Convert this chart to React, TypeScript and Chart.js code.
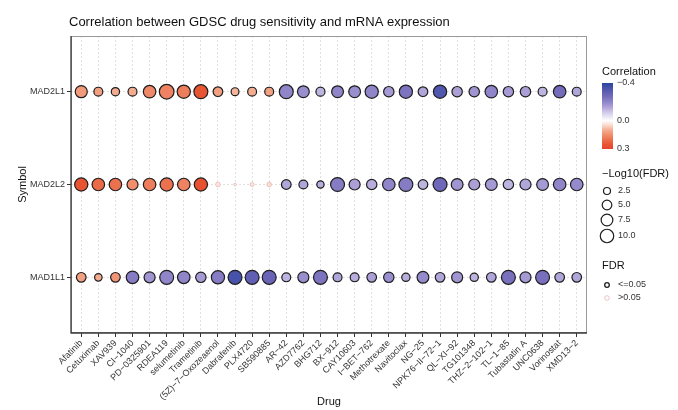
import React, { useEffect, useRef } from "react";
import { Chart, registerables } from "chart.js";
Chart.register(...registerables);

// ---------------- data ----------------
const drugs = [
  "Afatinib", "Cetuximab", "XAV939", "CI−1040", "PD−0325901", "RDEA119", "selumetinib", "Trametinib",
  "(5Z)−7−Oxozeaenol", "Dabrafenib", "PLX4720", "SB590885", "AR−42", "AZD7762", "BHG712", "BX−912",
  "CAY10603", "I−BET−762", "Methotrexate", "Navitoclax", "NG−25", "NPK76−II−72−1", "QL−XI−92", "TG101348",
  "THZ−2−102−1", "TL−1−85", "Tubastatin A", "UNC0638", "Vorinostat", "XMD13−2",
];
// rows, top to bottom
const symbols = ["MAD2L1", "MAD2L2", "MAD1L1"];

const corrMAD2L1 = [0.13, 0.12, 0.10, 0.10, 0.16, 0.17, 0.18, 0.25, 0.12, 0.09, 0.10, 0.12, -0.20, -0.18, -0.12,
  -0.20, -0.18, -0.20, -0.16, -0.24, -0.14, -0.33, -0.15, -0.17, -0.20, -0.16, -0.15, -0.12, -0.26, -0.14];
const logFdrMAD2L1 = [6.4, 3.4, 2.9, 3.4, 6.9, 9.6, 7.7, 8.6, 4.0, 2.6, 3.4, 3.4, 8.6, 6.1, 3.5,
  6.1, 6.1, 7.7, 4.7, 7.7, 4.0, 7.7, 4.7, 4.7, 6.9, 4.7, 4.7, 3.4, 6.9, 3.4];

const corrMAD2L2 = [0.25, 0.21, 0.20, 0.15, 0.18, 0.20, 0.17, 0.26, 0.03, 0.02, 0.03, 0.04, -0.14, -0.14, -0.13,
  -0.22, -0.15, -0.13, -0.20, -0.22, -0.12, -0.27, -0.17, -0.15, -0.16, -0.12, -0.14, -0.16, -0.20, -0.19];
const logFdrMAD2L2 = [7.7, 6.9, 6.9, 5.3, 6.9, 7.7, 6.9, 7.7, 0.75, 0.1, 0.5, 0.75, 4.0, 3.4, 2.2,
  8.6, 5.3, 4.7, 6.9, 8.6, 4.0, 8.6, 6.1, 5.3, 6.1, 4.7, 5.3, 6.1, 6.9, 6.9];

const corrMAD1L1 = [0.12, 0.10, 0.14, -0.22, -0.17, -0.20, -0.20, -0.16, -0.22, -0.35, -0.30, -0.28, -0.12, -0.18, -0.24,
  -0.14, -0.13, -0.15, -0.18, -0.13, -0.19, -0.14, -0.17, -0.12, -0.14, -0.25, -0.16, -0.25, -0.14, -0.14];
const logFdrMAD1L1 = [4.0, 2.35, 4.0, 6.9, 5.3, 8.6, 6.9, 4.7, 7.7, 8.6, 8.6, 8.6, 3.4, 5.3, 8.6,
  3.4, 3.4, 4.0, 4.7, 2.9, 6.1, 4.0, 5.3, 2.9, 4.0, 8.6, 5.3, 8.6, 4.0, 4.0];

const corrRows = [corrMAD2L1, corrMAD2L2, corrMAD1L1];
const logFdrRows = [logFdrMAD2L1, logFdrMAD2L2, logFdrMAD1L1];

const colorBreaks = [-0.4, 0.0, 0.3];
const sizeBreaks = [2.5, 5.0, 7.5, 10.0];
const fdrLevels = ["<=0.05", ">0.05"];
const FDR_CUT = 0.05;

// ---------------- styles ----------------
const FONT = "'Liberation Sans', Arial, sans-serif";
const colorStops: [number, string][] = [
  [-0.4, "#2A44A0"], [-0.35, "#4752AA"], [-0.27, "#6F67B8"], [-0.2, "#8F85C8"], [-0.15, "#AB9FD6"],
  [-0.1, "#CBC2E6"], [0, "#FFFFFF"], [0.05, "#FAD8CA"], [0.1, "#F4AC90"], [0.15, "#F08E6E"],
  [0.2, "#EC714F"], [0.25, "#E85532"], [0.3, "#E6432A"],
];
function hexRgb(h: string) {
  return [parseInt(h.slice(1, 3), 16), parseInt(h.slice(3, 5), 16), parseInt(h.slice(5, 7), 16)];
}
function corrColor(c: number) {
  const v = Math.max(colorStops[0][0], Math.min(colorStops[colorStops.length - 1][0], c));
  for (let i = 0; i < colorStops.length - 1; i++) {
    const [a, ca] = colorStops[i];
    const [b, cb] = colorStops[i + 1];
    if (v >= a && v <= b) {
      const t = (v - a) / (b - a);
      const A = hexRgb(ca), B = hexRgb(cb);
      const m = A.map((x, k) => Math.round(x + (B[k] - x) * t));
      return `rgb(${m[0]},${m[1]},${m[2]})`;
    }
  }
  return "#fff";
}
function radiusOf(v: number) {
  return Math.sqrt(1.2 + 5.5 * v);
}
const isSig = (v: number) => v >= -Math.log10(FDR_CUT);
const SIG_BORDER = "#1e1e1e";
const NS_BORDER = "rgba(226,170,170,0.75)";

export default function App() {
  const ref = useRef<HTMLCanvasElement>(null);
  useEffect(() => {
    document.body.style.margin = "0";
    const nRows = symbols.length;
    const points: any[] = [];
    symbols.forEach((s, k) => {
      drugs.forEach((d, i) => {
        points.push({ x: i, y: nRows - 1 - k, c: corrRows[k][i], v: logFdrRows[k][i] });
      });
    });

    const decor = {
      id: "decor",
      afterDraw(chart: any) {
        const { ctx, chartArea: ca } = chart;
        ctx.save();
        // panel border
        ctx.strokeStyle = "#9a9a9a";
        ctx.lineWidth = 1;
        ctx.strokeRect(ca.left + 0.5, ca.top + 0.5, ca.right - ca.left - 1, ca.bottom - ca.top - 1);
        ctx.strokeStyle = "#3a3a3a";
        ctx.lineWidth = 1.3;
        ctx.beginPath();
        ctx.moveTo(ca.left, ca.top);
        ctx.lineTo(ca.left, ca.bottom);
        ctx.lineTo(ca.right, ca.bottom);
        ctx.stroke();

        // title
        ctx.fillStyle = "#111";
        ctx.font = `13px ${FONT}`;
        ctx.textAlign = "left";
        ctx.textBaseline = "middle";
        ctx.fillText("Correlation between GDSC drug sensitivity and mRNA expression", 69, 22);

        // legend: Correlation
        const lx = 602;
        ctx.font = `11px ${FONT}`;
        ctx.fillStyle = "#111";
        ctx.fillText("Correlation", lx, 72);
        const barTop = 83, barBot = 149, barW = 11;
        const lo = colorBreaks[0], hi = colorBreaks[colorBreaks.length - 1];
        for (let y = barTop; y < barBot; y++) {
          const val = lo + ((y + 0.5 - barTop) / (barBot - barTop)) * (hi - lo);
          ctx.fillStyle = corrColor(val);
          ctx.fillRect(lx, y, barW, 1);
        }
        ctx.font = `9px ${FONT}`;
        ctx.fillStyle = "#333";
        colorBreaks.forEach((b) => {
          const y = barTop + ((b - lo) / (hi - lo)) * (barBot - barTop);
          const lab = (b < 0 ? "−" : "") + Math.abs(b).toFixed(1);
          ctx.fillText(lab, lx + 15, y);
        });

        // legend: size
        ctx.font = `11px ${FONT}`;
        ctx.fillStyle = "#111";
        ctx.fillText("−Log10(FDR)", lx, 174);
        const sizeY = [191, 205, 220, 236];
        sizeBreaks.forEach((b, i) => {
          ctx.beginPath();
          ctx.arc(lx + 5, sizeY[i], radiusOf(b) * 0.9, 0, Math.PI * 2);
          ctx.fillStyle = "#fff";
          ctx.fill();
          ctx.strokeStyle = SIG_BORDER;
          ctx.lineWidth = 1.2;
          ctx.stroke();
          ctx.font = `9px ${FONT}`;
          ctx.fillStyle = "#333";
          ctx.fillText(b.toFixed(1), lx + 16, sizeY[i]);
        });

        // legend: FDR
        ctx.font = `11px ${FONT}`;
        ctx.fillStyle = "#111";
        ctx.fillText("FDR", lx, 266);
        const fdrY = [285, 298];
        fdrLevels.forEach((lab, i) => {
          ctx.beginPath();
          ctx.arc(lx + 5, fdrY[i], 2.3, 0, Math.PI * 2);
          ctx.fillStyle = "#fff";
          ctx.fill();
          ctx.strokeStyle = i === 0 ? SIG_BORDER : NS_BORDER;
          ctx.lineWidth = i === 0 ? 1.3 : 0.9;
          ctx.stroke();
          ctx.font = `9px ${FONT}`;
          ctx.fillStyle = "#333";
          ctx.fillText(lab, lx + 16, fdrY[i]);
        });
        ctx.restore();
      },
    };

    const gridCommon = {
      color: "#dadada",
      lineWidth: 0.8,
      borderDash: [2, 2],
      drawTicks: true,
      tickLength: 4,
      tickColor: "#333",
      tickWidth: 1,
      tickBorderDash: [],
    };

    const chart = new Chart(ref.current!, {
      type: "scatter",
      data: {
        datasets: [
          {
            data: points,
            pointRadius: (c: any) => radiusOf(c.raw.v),
            pointHoverRadius: (c: any) => radiusOf(c.raw.v),
            pointBackgroundColor: (c: any) => corrColor(c.raw.c),
            pointBorderColor: (c: any) => (isSig(c.raw.v) ? SIG_BORDER : NS_BORDER),
            pointBorderWidth: (c: any) => (isSig(c.raw.v) ? 1.2 : 0.9),
          } as any,
        ],
      },
      options: {
        animation: false,
        responsive: false,
        events: [],
        layout: { padding: { left: 12, right: 91, top: 36, bottom: 0 } },
        plugins: { legend: { display: false }, tooltip: { enabled: false }, title: { display: false } },
        scales: {
          x: {
            type: "linear",
            min: -0.6,
            max: drugs.length - 1 + 0.6,
            afterBuildTicks: (s: any) => {
              s.ticks = drugs.map((_, i) => ({ value: i }));
            },
            afterFit: (s: any) => {
              s.height = 77;
            },
            ticks: {
              autoSkip: false,
              minRotation: 45,
              maxRotation: 45,
              padding: 1,
              color: "#333",
              font: { family: FONT, size: 9 },
              callback: (v: any) => drugs[v] ?? "",
            },
            grid: gridCommon as any,
            border: { display: false, dash: [2, 2] },
            title: { display: true, text: "Drug", color: "#111", font: { family: FONT, size: 11 }, padding: { top: 0, bottom: 1 } },
          },
          y: {
            type: "linear",
            min: -0.6,
            max: symbols.length - 1 + 0.6,
            afterBuildTicks: (s: any) => {
              s.ticks = symbols.map((_, i) => ({ value: i }));
            },
            afterFit: (s: any) => {
              s.width = 59;
            },
            ticks: {
              padding: 2,
              color: "#333",
              font: { family: FONT, size: 9 },
              callback: (v: any) => symbols[symbols.length - 1 - v] ?? "",
            },
            grid: gridCommon as any,
            border: { display: false, dash: [2, 2] },
            title: { display: true, text: "Symbol", color: "#111", font: { family: FONT, size: 11 }, padding: { top: 4, bottom: 0 } },
          },
        },
      },
      plugins: [decor],
    });
    return () => chart.destroy();
  }, []);
  return (
    <div style={{ width: 678, height: 410, background: "#fff" }}>
      <canvas ref={ref} width={678} height={410} style={{ display: "block" }} />
    </div>
  );
}
